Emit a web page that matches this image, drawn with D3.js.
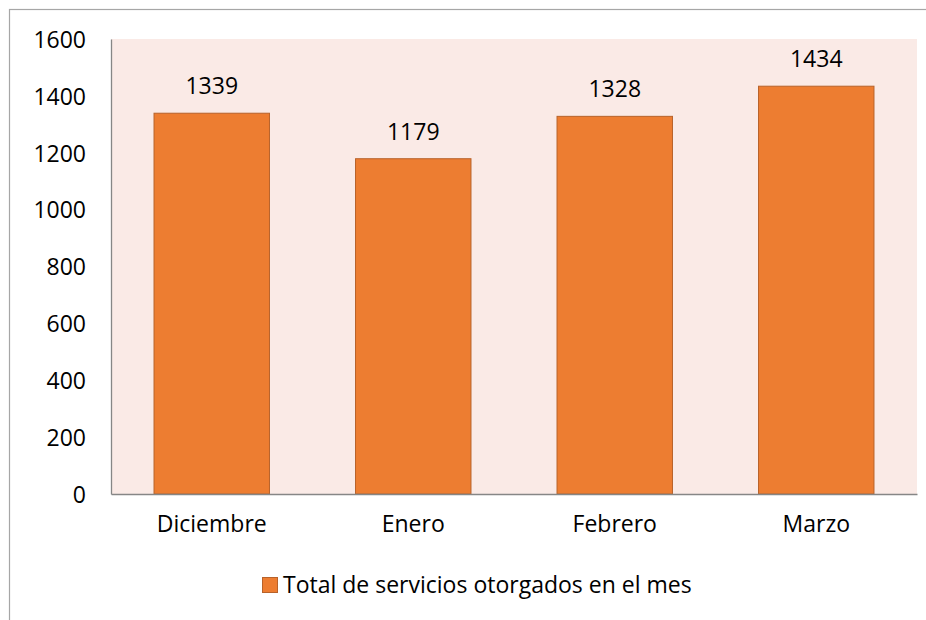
<!DOCTYPE html>
<html><head><meta charset="utf-8">
<script src="https://cdn.jsdelivr.net/npm/d3@7"></script>
<style>
html,body{margin:0;padding:0;background:#fff;}
svg{display:block;font-family:"Open Sans", sans-serif;}
</style></head>
<body><svg id="c" width="926" height="620"></svg>
<script>
const categories = ["Diciembre", "Enero", "Febrero", "Marzo"];
const values = [1339, 1179, 1328, 1434];
const yTicks = [0, 200, 400, 600, 800, 1000, 1200, 1400, 1600];
const seriesName = "Total de servicios otorgados en el mes";

const svg = d3.select("#c");
const L = 111, R = 917, T = 39, B = 494;
const fs = 23;
const ff = "Open Sans";

// outer chart border
svg.append("rect").attr("x", 9.5).attr("y", 9.5).attr("width", 940).attr("height", 640)
  .attr("fill", "none").attr("stroke", "#a6a6a6").attr("stroke-width", 1.2);

// plot background
svg.append("rect").attr("x", L).attr("y", T).attr("width", R - L).attr("height", B - T)
  .attr("fill", "#faeae6");

const x = d3.scaleBand().domain(categories).range([L, R]).paddingInner(0.427).paddingOuter(0.2135);
const y = d3.scaleLinear().domain([0, 1600]).range([B, T]);

svg.selectAll("rect.bar").data(values).enter().append("rect").attr("class", "bar")
  .attr("x", (d, i) => x(categories[i]))
  .attr("y", d => y(d))
  .attr("width", x.bandwidth())
  .attr("height", d => B - y(d))
  .attr("fill", "#ed7d31").attr("stroke", "#b8622a").attr("stroke-width", 1);

svg.selectAll("text.val").data(values).enter().append("text").attr("class", "val")
  .attr("x", (d, i) => x(categories[i]) + x.bandwidth() / 2)
  .attr("y", d => y(d) - 19)
  .attr("text-anchor", "middle").attr("font-size", fs).attr("fill", "#000")
  .text(d => d);

// y axis
const yAxis = svg.append("g").attr("transform", `translate(${L},0)`)
  .call(d3.axisLeft(y).tickValues(yTicks).tickFormat(d3.format("d")).tickSize(0).tickPadding(25));
yAxis.select(".domain").attr("stroke", "#868686").attr("stroke-width", 1.3);
yAxis.selectAll("text").attr("font-size", fs).attr("fill", "#000").attr("font-family", ff).attr("dy", "0.36em");

// x axis
const xAxis = svg.append("g").attr("transform", `translate(0,${B})`)
  .call(d3.axisBottom(x).tickSize(0).tickPadding(22));
xAxis.select(".domain").attr("stroke", "#868686").attr("stroke-width", 1.3);
xAxis.selectAll("text").attr("font-size", fs).attr("fill", "#000").attr("font-family", ff);

// legend
const lg = svg.append("g");
lg.append("rect").attr("x", 262.5).attr("y", 577.5).attr("width", 15).attr("height", 15)
  .attr("fill", "#ed7d31").attr("stroke", "#b8622a").attr("stroke-width", 1);
lg.append("text").attr("x", 283).attr("y", 593).attr("font-size", fs).attr("fill", "#000")
  .text(seriesName);
</script></body></html>
